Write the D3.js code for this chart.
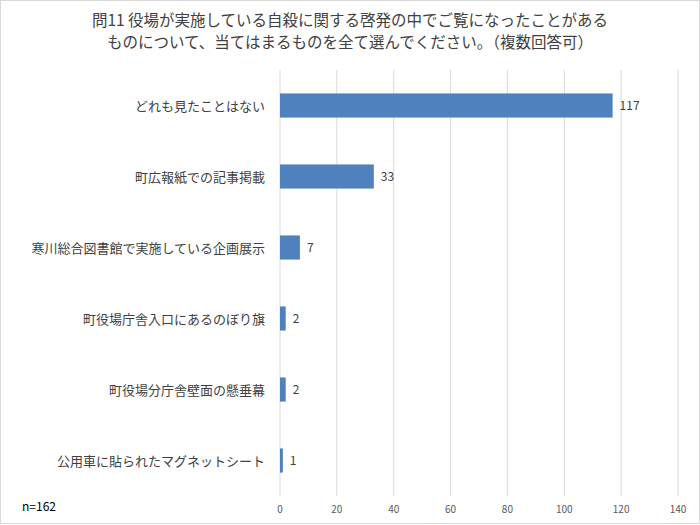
<!DOCTYPE html><html><head><meta charset="utf-8"><script src="https://cdn.jsdelivr.net/npm/d3@7"></script>
<style>body{margin:0;background:#fff}</style></head><body><svg id="c" width="700" height="525"></svg>
<script>
const categories=["どれも見たことはない","町広報紙での記事掲載","寒川総合図書館で実施している企画展示","町役場庁舎入口にあるのぼり旗","町役場分庁舎壁面の懸垂幕","公用車に貼られたマグネットシート"];
const values=[117,33,7,2,2,1];
const ticks=[0,20,40,60,80,100,120,140];
const titleLines=["問11  役場が実施している自殺に関する啓発の中でご覧になったことがある","ものについて、当てはまるものを全て選んでください。（複数回答可）"];
const svg=d3.select("#c");
const F="'Noto Sans CJK JP',sans-serif";
svg.append("rect").attr("x",0.5).attr("y",0.5).attr("width",699).attr("height",523).attr("fill","#fff").attr("stroke","#d9d9d9");
const x=d3.scaleLinear().domain([0,140]).range([280,678]);
const y=d3.scaleBand().domain(categories).range([70,496]).paddingInner(0.66).paddingOuter(0.33);
svg.append("g").selectAll("line").data(ticks).join("line").attr("x1",d=>x(d)).attr("x2",d=>x(d)).attr("y1",70).attr("y2",496).attr("stroke","#d9d9d9");
svg.append("g").selectAll("text").data(ticks).join("text").attr("x",d=>x(d)).attr("y",513).attr("text-anchor","middle").attr("font-size",10).attr("font-family",F).attr("fill","#595959").text(d=>d);
svg.append("g").selectAll("rect").data(values).join("rect").attr("x",x(0)).attr("y",(d,i)=>y(categories[i])).attr("height",y.bandwidth()).attr("width",d=>x(d)-x(0)).attr("fill","#4f81bd");
svg.append("g").selectAll("text").data(values).join("text").attr("x",d=>x(d)+7).attr("y",(d,i)=>y(categories[i])+y.bandwidth()/2+4).attr("font-size",12).attr("font-family",F).attr("fill","#404040").text(d=>d);
svg.append("g").selectAll("text").data(categories).join("text").attr("x",265).attr("y",d=>y(d)+y.bandwidth()/2+5).attr("text-anchor","end").attr("font-size",13).attr("font-family",F).attr("fill","#404040").text(d=>d);
svg.append("g").selectAll("text").data(titleLines).join("text").attr("x",350).attr("y",(d,i)=>26+i*22).attr("text-anchor","middle").attr("font-size",15.5).attr("font-family",F).attr("fill","#404040").text(d=>d);
svg.append("text").attr("x",22).attr("y",511).attr("font-size",12).attr("font-family",F).attr("fill","#000").text("n=162");
</script></body></html>
